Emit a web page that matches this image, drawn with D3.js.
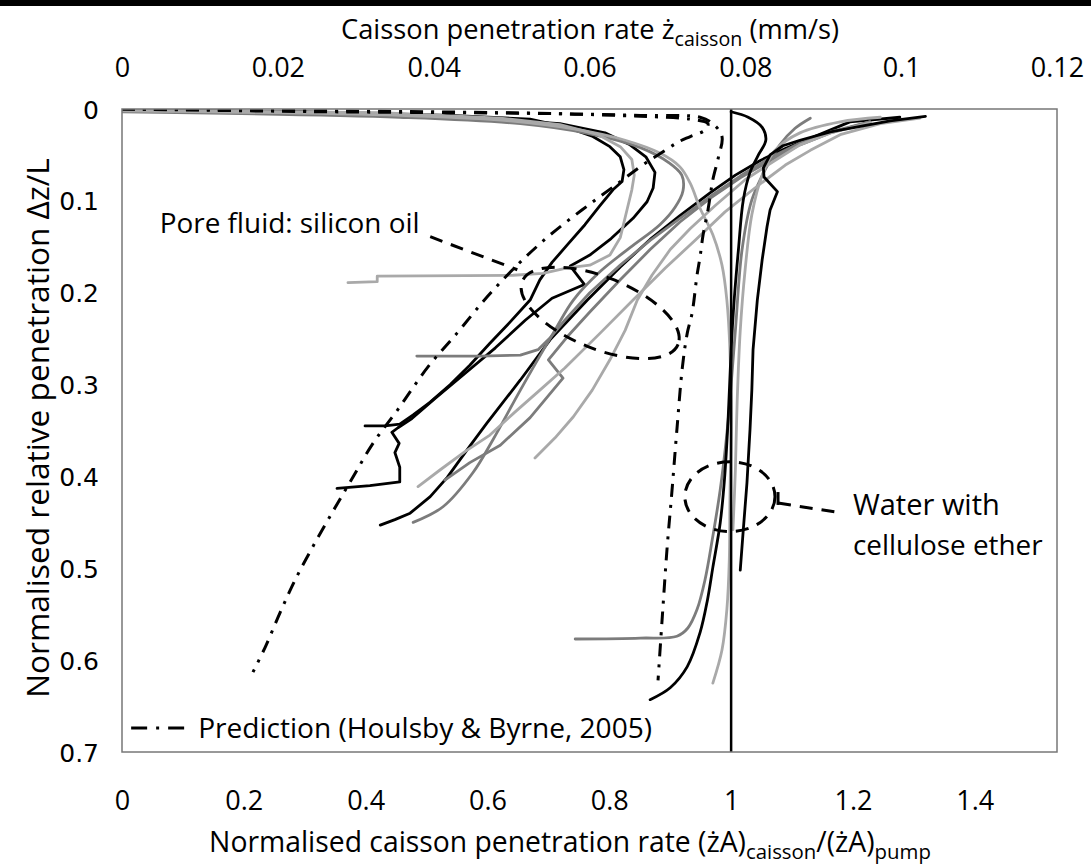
<!DOCTYPE html>
<html><head><meta charset="utf-8">
<script src="https://cdn.jsdelivr.net/npm/d3@7"></script>
<style>html,body{margin:0;padding:0;background:#fff}svg{display:block}</style>
</head><body>
<svg id="chart" width="1091" height="865"></svg>
<script>
// ---------- tick values / labels ----------
const topTicks = [0, 0.02, 0.04, 0.06, 0.08, 0.1, 0.12];
const topTickLabels = ["0", "0.02", "0.04", "0.06", "0.08", "0.1", "0.12"];
const bottomTicks = [0, 0.2, 0.4, 0.6, 0.8, 1, 1.2, 1.4];
const bottomTickLabels = ["0", "0.2", "0.4", "0.6", "0.8", "1", "1.2", "1.4"];
const yTicks = [0, 0.1, 0.2, 0.3, 0.4, 0.5, 0.6, 0.7];
const yTickLabels = ["0", "0.1", "0.2", "0.3", "0.4", "0.5", "0.6", "0.7"];
const pumpRatio = 1;

// ---------- series: [normalised rate, normalised penetration] ----------
// silicon oil tests
const oilBlack1 = [[0,0.001],[0.292,0.003],[0.539,0.007],[0.670,0.011],[0.731,0.020],[0.773,0.030],[0.801,0.041],[0.818,0.052],[0.824,0.066],[0.821,0.079],[0.806,0.088],[0.785,0.105],[0.760,0.126],[0.731,0.148],[0.706,0.167],[0.686,0.186],[0.670,0.208],[0.637,0.232],[0.604,0.255],[0.571,0.279],[0.539,0.300],[0.506,0.319],[0.478,0.333],[0.456,0.343],[0.432,0.345],[0.399,0.345]];
const oilBlack2 = [[0,0.002],[0.374,0.005],[0.588,0.010],[0.719,0.016],[0.793,0.026],[0.834,0.039],[0.860,0.052],[0.875,0.069],[0.872,0.086],[0.862,0.101],[0.839,0.119],[0.803,0.141],[0.768,0.159],[0.736,0.171],[0.759,0.191],[0.706,0.206],[0.662,0.230],[0.613,0.260],[0.563,0.288],[0.514,0.315],[0.476,0.337],[0.453,0.347],[0.443,0.352],[0.455,0.364],[0.448,0.374],[0.456,0.390],[0.456,0.406],[0.407,0.410],[0.353,0.413]];
const oilBlack3 = [[1.277,0.009],[1.195,0.014],[1.130,0.032],[1.089,0.043],[1.048,0.056],[1.007,0.072],[0.966,0.091],[0.916,0.116],[0.867,0.142],[0.818,0.172],[0.764,0.208],[0.703,0.251],[0.654,0.295],[0.599,0.342],[0.571,0.367],[0.534,0.401],[0.506,0.422],[0.473,0.440],[0.448,0.447],[0.424,0.453]];
const oilLight1 = [[0,0.001],[0.424,0.004],[0.621,0.010],[0.719,0.017],[0.782,0.028],[0.818,0.041],[0.837,0.055],[0.841,0.072],[0.837,0.088],[0.829,0.110],[0.818,0.140],[0.801,0.159],[0.768,0.170],[0.731,0.173],[0.691,0.179],[0.642,0.181],[0.419,0.182],[0.419,0.188],[0.371,0.189]];
const oilGray1 = [[0,0.003],[0.456,0.009],[0.654,0.016],[0.768,0.027],[0.851,0.042],[0.897,0.058],[0.919,0.072],[0.921,0.089],[0.908,0.107],[0.883,0.126],[0.834,0.151],[0.785,0.177],[0.741,0.208],[0.708,0.244],[0.654,0.306],[0.609,0.360],[0.576,0.396],[0.527,0.433],[0.478,0.450]];
const oilLight2 = [[1.310,0.010],[1.245,0.016],[1.179,0.028],[1.130,0.045],[1.089,0.061],[1.039,0.086],[0.990,0.112],[0.941,0.143],[0.892,0.173],[0.839,0.208],[0.785,0.244],[0.727,0.282],[0.686,0.306],[0.645,0.330],[0.604,0.355],[0.563,0.373],[0.522,0.393],[0.486,0.411]];
const oilGray2 = [[1.228,0.014],[1.163,0.026],[1.113,0.039],[1.064,0.056],[1.015,0.075],[0.966,0.097],[0.916,0.123],[0.867,0.153],[0.818,0.186],[0.768,0.221],[0.731,0.248],[0.700,0.273],[0.724,0.293],[0.670,0.336],[0.621,0.366],[0.571,0.385],[0.530,0.404]];
const oilLight3 = [[1.228,0.015],[1.163,0.026],[1.113,0.039],[1.072,0.056],[1.023,0.077],[0.974,0.105],[0.933,0.130],[0.900,0.153],[0.870,0.181],[0.846,0.208],[0.826,0.241],[0.801,0.273],[0.772,0.306],[0.741,0.335],[0.711,0.358],[0.678,0.380]];
const oilGray3 = [[1.228,0.014],[1.163,0.025],[1.113,0.037],[1.064,0.053],[1.015,0.073],[0.966,0.095],[0.916,0.119],[0.867,0.143],[0.818,0.170],[0.768,0.200],[0.727,0.230],[0.703,0.249],[0.683,0.262],[0.654,0.268],[0.588,0.269],[0.484,0.269]];
// water with cellulose ether tests
const waterBlack1 = [[1.319,0.008],[1.261,0.013],[1.212,0.019],[1.163,0.025],[1.113,0.034],[1.085,0.040],[1.064,0.050],[1.053,0.064],[1.054,0.074],[1.076,0.090],[1.064,0.110],[1.059,0.128],[1.051,0.164],[1.043,0.208],[1.036,0.262],[1.034,0.306],[1.031,0.349],[1.026,0.407],[1.020,0.458],[1.015,0.502]];
const waterBlack2 = [[1.000,0.003],[1.028,0.009],[1.051,0.020],[1.057,0.034],[1.044,0.051],[1.031,0.069],[1.020,0.099],[1.012,0.153],[1.005,0.208],[1.000,0.262],[0.995,0.339],[0.989,0.404],[0.982,0.451],[0.970,0.499],[0.961,0.535],[0.949,0.570],[0.928,0.607],[0.900,0.630],[0.867,0.643]];
const waterGray1 = [[1.130,0.010],[1.105,0.021],[1.080,0.039],[1.056,0.066],[1.034,0.099],[1.018,0.153],[1.007,0.241],[0.998,0.317],[0.992,0.360],[0.982,0.415],[0.969,0.469],[0.957,0.513],[0.944,0.545],[0.929,0.565],[0.911,0.574],[0.851,0.576],[0.744,0.577]];
const waterLight1 = [[0,0.002],[0.456,0.007],[0.637,0.013],[0.744,0.022],[0.826,0.034],[0.883,0.048],[0.916,0.063],[0.933,0.081],[0.949,0.108],[0.970,0.137],[0.985,0.170],[0.993,0.208],[0.998,0.262],[1.000,0.339],[0.998,0.426],[0.997,0.491],[0.993,0.545],[0.985,0.589],[0.970,0.625]];
const waterLight2 = [[1.245,0.009],[1.179,0.014],[1.113,0.026],[1.072,0.045],[1.051,0.072],[1.034,0.115],[1.023,0.175],[1.015,0.241],[1.010,0.317],[1.007,0.393],[1.003,0.458]];
// predictions (Houlsby & Byrne, 2005)
const predictionOil = [[0,0],[0.333,0.003],[0.539,0.004],[0.703,0.005],[0.851,0.008],[0.933,0.011],[0.962,0.016],[0.957,0.023],[0.933,0.030],[0.913,0.036],[0.892,0.045],[0.859,0.059],[0.806,0.085],[0.755,0.110],[0.703,0.137],[0.658,0.164],[0.621,0.189],[0.591,0.211],[0.550,0.244],[0.502,0.281],[0.452,0.328],[0.412,0.364],[0.379,0.401],[0.348,0.436],[0.317,0.472],[0.284,0.513],[0.259,0.549],[0.235,0.586],[0.215,0.613]];
const predictionWater = [[0,0],[0.333,0.002],[0.621,0.004],[0.851,0.007],[0.949,0.009],[0.970,0.016],[0.985,0.030],[0.979,0.053],[0.970,0.077],[0.962,0.110],[0.954,0.137],[0.949,0.161],[0.944,0.181],[0.936,0.222],[0.928,0.244],[0.920,0.281],[0.911,0.349],[0.903,0.415],[0.895,0.477],[0.887,0.553],[0.880,0.622]];

// annotations (data units)
const oilOval = {cx: 0.785, cy: 0.222, rx: 0.138, ry: 0.039, rot: 22};
const oilLeader = [[0.506, 0.139], [0.649, 0.175]];
const oilLabel = {x: 0.062, y: 0.124, text: "Pore fluid: silicon oil", w: 260};
const waterOval = {cx: 0.998, cy: 0.422, rx: 0.074, ry: 0.038};
const waterTick = [[1.077, 0.417], [1.077, 0.431]];
const waterLeader = [[1.077, 0.429], [1.184, 0.440]];
const waterLabel = [{x: 1.2, y: 0.431, text: "Water with", w: 147}, {x: 1.2, y: 0.475, text: "cellulose ether", w: 190}];
const legendSym = [[0.015, 0.674], [0.105, 0.674]];
const legendLabel = {x: 0.125, y: 0.674, text: "Prediction (Houlsby & Byrne, 2005)", w: 454};

// ---------- chart ----------
const BLACK = "#000", GRAY = "#7c7c7c", LIGHT = "#a9a9a9";
const svg = d3.select("#chart");
const x = d3.scaleLinear().domain([0, 1.535]).range([122, 1057]);
const xTop = d3.scaleLinear().domain([0, 0.12]).range([122, 1057]);
const y = d3.scaleLinear().domain([0, 0.7]).range([109, 752]);
const FONT = "'Open Sans', 'DejaVu Sans', sans-serif";

svg.append("rect").attr("x", 0).attr("y", 0).attr("width", 1091).attr("height", 6).attr("fill", "#000");

svg.append("clipPath").attr("id", "clip").append("rect")
  .attr("x", x(0)).attr("y", y(0)).attr("width", x(1.535) - x(0)).attr("height", y(0.7) - y(0));

const plot = svg.append("g").attr("clip-path", "url(#clip)");
const smooth = d3.line().x(d => x(d[0])).y(d => y(d[1])).curve(d3.curveCatmullRom.alpha(0.5));
const straight = d3.line().x(d => x(d[0])).y(d => y(d[1]));

const series = [
  {d: oilBlack1, c: BLACK, k: straight},
  {d: oilBlack2, c: BLACK, k: straight},
  {d: oilBlack3, c: BLACK, k: straight},
  {d: oilGray1, c: GRAY, k: smooth},
  {d: oilGray2, c: GRAY, k: straight},
  {d: oilGray3, c: GRAY, k: straight},
  {d: waterGray1, c: GRAY, k: smooth},
  {d: oilLight1, c: LIGHT, k: straight},
  {d: oilLight2, c: LIGHT, k: straight},
  {d: oilLight3, c: LIGHT, k: straight},
  {d: waterLight1, c: LIGHT, k: smooth},
  {d: waterLight2, c: LIGHT, k: smooth},
  {d: waterBlack1, c: BLACK, k: straight},
  {d: waterBlack2, c: BLACK, k: smooth}
];
plot.selectAll("path.s").data(series).join("path").attr("class", "s")
  .attr("d", s => s.k(s.d)).attr("fill", "none").attr("stroke", s => s.c)
  .attr("stroke-width", 2.8).attr("stroke-linejoin", "round").attr("stroke-linecap", "round");

plot.selectAll("path.p").data([predictionOil, predictionWater]).join("path").attr("class", "p")
  .attr("d", d => smooth(d)).attr("fill", "none").attr("stroke", BLACK)
  .attr("stroke-width", 3).attr("stroke-dasharray", "13,8,3,8");

// pump-rate line
svg.append("line").attr("x1", x(pumpRatio)).attr("x2", x(pumpRatio)).attr("y1", y(0)).attr("y2", y(0.7))
  .attr("stroke", BLACK).attr("stroke-width", 2.5);

// plot frame
svg.append("rect").attr("x", x(0)).attr("y", y(0)).attr("width", x(1.535) - x(0)).attr("height", y(0.7) - y(0))
  .attr("fill", "none").attr("stroke", "#777").attr("stroke-width", 1.5);

// annotations
const dash = "13,9";
svg.append("ellipse").attr("cx", x(oilOval.cx)).attr("cy", y(oilOval.cy))
  .attr("rx", x(oilOval.cx + oilOval.rx) - x(oilOval.cx)).attr("ry", y(oilOval.cy + oilOval.ry) - y(oilOval.cy))
  .attr("transform", `rotate(${oilOval.rot},${x(oilOval.cx)},${y(oilOval.cy)})`)
  .attr("fill", "none").attr("stroke", BLACK).attr("stroke-width", 3).attr("stroke-dasharray", dash);
svg.append("path").attr("d", straight(oilLeader)).attr("fill", "none").attr("stroke", BLACK)
  .attr("stroke-width", 3).attr("stroke-dasharray", dash);
svg.append("ellipse").attr("cx", x(waterOval.cx)).attr("cy", y(waterOval.cy))
  .attr("rx", x(waterOval.cx + waterOval.rx) - x(waterOval.cx)).attr("ry", y(waterOval.cy + waterOval.ry) - y(waterOval.cy))
  .attr("fill", "none").attr("stroke", BLACK).attr("stroke-width", 3).attr("stroke-dasharray", dash);
svg.append("path").attr("d", straight(waterTick)).attr("fill", "none").attr("stroke", BLACK).attr("stroke-width", 3);
svg.append("path").attr("d", straight(waterLeader)).attr("fill", "none").attr("stroke", BLACK)
  .attr("stroke-width", 3).attr("stroke-dasharray", dash);
svg.append("path").attr("d", straight(legendSym)).attr("fill", "none").attr("stroke", BLACK)
  .attr("stroke-width", 3).attr("stroke-dasharray", "16,9,3,9");

function fit(sel, w) {
  const bb = sel.node().getBBox();
  const fs = parseFloat(sel.attr("font-size"));
  sel.attr("font-size", fs * w / bb.width);
}
[oilLabel, ...waterLabel, legendLabel].forEach(t => {
  const s = svg.append("text").attr("x", x(t.x)).attr("y", y(t.y)).attr("dy", "0.36em")
    .attr("font-family", FONT).attr("font-size", 24).attr("fill", "#000").text(t.text);
  fit(s, t.w);
});

// axes
const gTop = svg.append("g").attr("transform", `translate(0,${y(0)})`)
  .call(d3.axisTop(xTop).tickValues(topTicks).tickFormat((d, i) => topTickLabels[i]).tickSize(0));
gTop.select(".domain").remove();
gTop.attr("font-family", FONT).attr("font-size", 27);
gTop.selectAll("text").attr("y", 67 - y(0)).attr("dy", "0.36em").attr("fill", "#000");

const gBot = svg.append("g").attr("transform", `translate(0,${y(0.7)})`)
  .call(d3.axisBottom(x).tickValues(bottomTicks).tickFormat((d, i) => bottomTickLabels[i]).tickSize(0));
gBot.select(".domain").remove();
gBot.attr("font-family", FONT).attr("font-size", 27);
gBot.selectAll("text").attr("y", 800 - y(0.7)).attr("dy", "0.36em").attr("fill", "#000");

const gY = svg.append("g").attr("transform", `translate(${x(0)},0)`)
  .call(d3.axisLeft(y).tickValues(yTicks).tickFormat((d, i) => yTickLabels[i]).tickSize(0));
gY.select(".domain").remove();
gY.attr("font-family", "'DejaVu Sans', Verdana, sans-serif").attr("font-size", 25);
gY.selectAll("text").attr("x", 99 - x(0)).attr("dy", "0.36em").attr("fill", "#000");

// titles
const tTop = svg.append("text").attr("x", 590).attr("y", 29).attr("dy", "0.36em").attr("text-anchor", "middle")
  .attr("font-family", FONT).attr("font-size", 24).attr("fill", "#000");
tTop.append("tspan").text("Caisson penetration rate ż");
tTop.append("tspan").attr("font-size", "0.72em").attr("dy", "0.35em").text("caisson");
tTop.append("tspan").attr("dy", "-0.252em").text(" (mm/s)");
fit(tTop, 498);

const tBot = svg.append("text").attr("x", 570).attr("y", 842).attr("dy", "0.36em").attr("text-anchor", "middle")
  .attr("font-family", FONT).attr("font-size", 24).attr("fill", "#000");
tBot.append("tspan").text("Normalised caisson penetration rate (żA)");
tBot.append("tspan").attr("font-size", "0.72em").attr("dy", "0.35em").text("caisson");
tBot.append("tspan").attr("dy", "-0.252em").text("/(żA)");
tBot.append("tspan").attr("font-size", "0.72em").attr("dy", "0.35em").text("pump");
fit(tBot, 722);

const tY = svg.append("text").attr("transform", "translate(38,428) rotate(-90)").attr("dy", "0.36em")
  .attr("text-anchor", "middle").attr("font-family", FONT).attr("font-size", 24).attr("fill", "#000")
  .text("Normalised relative penetration Δz/L");
fit(tY, 540);
</script>
</body></html>
